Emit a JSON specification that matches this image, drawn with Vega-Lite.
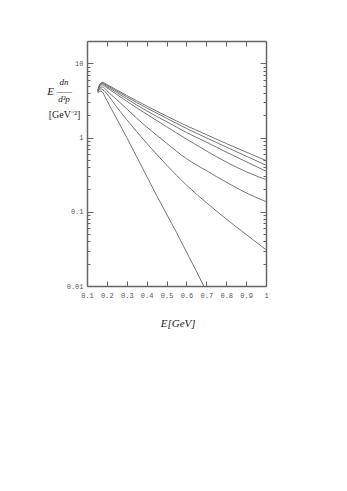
{
  "$schema": "https://vega.github.io/schema/vega-lite/v6.json",
  "width": 179,
  "height": 245,
  "autosize": {"type": "none"},
  "padding": {"left": 87, "top": 41, "right": 81, "bottom": 205},
  "background": "white",
  "title": {
    "text": "─────",
    "anchor": "start",
    "frame": "group",
    "align": "left",
    "baseline": "middle",
    "font": "DejaVu Sans",
    "fontSize": 5,
    "fontWeight": "normal",
    "color": "#222",
    "dx": -30,
    "dy": 60
  },
  "config": {
    "view": {"stroke": null},
    "axis": {
      "grid": false,
      "domainColor": "#666",
      "domainWidth": 1.5,
      "tickColor": "#666",
      "tickWidth": 1,
      "labelFont": "Liberation Mono",
      "labelFontSize": 7,
      "labelColor": "#555",
      "labelFlush": false,
      "titleFont": "Liberation Serif",
      "titleFontWeight": "normal",
      "titleColor": "#222"
    }
  },
  "data": {
    "values": [
      {"s": "A", "E": 0.155, "v": 4.37}, {"s": "A", "E": 0.16, "v": 4.90}, {"s": "A", "E": 0.17, "v": 5.43}, {"s": "A", "E": 0.18, "v": 5.56}, {"s": "A", "E": 0.19, "v": 5.38}, {"s": "A", "E": 0.2, "v": 5.19}, {"s": "A", "E": 0.25, "v": 4.37}, {"s": "A", "E": 0.3, "v": 3.69}, {"s": "A", "E": 0.35, "v": 3.13}, {"s": "A", "E": 0.4, "v": 2.66}, {"s": "A", "E": 0.5, "v": 1.95}, {"s": "A", "E": 0.6, "v": 1.445}, {"s": "A", "E": 0.7, "v": 1.096}, {"s": "A", "E": 0.8, "v": 0.832}, {"s": "A", "E": 0.9, "v": 0.638}, {"s": "A", "E": 1.0, "v": 0.49},
      {"s": "B", "E": 0.155, "v": 4.32}, {"s": "B", "E": 0.16, "v": 4.84}, {"s": "B", "E": 0.17, "v": 5.35}, {"s": "B", "E": 0.18, "v": 5.43}, {"s": "B", "E": 0.19, "v": 5.24}, {"s": "B", "E": 0.2, "v": 5.05}, {"s": "B", "E": 0.25, "v": 4.22}, {"s": "B", "E": 0.3, "v": 3.53}, {"s": "B", "E": 0.35, "v": 2.96}, {"s": "B", "E": 0.4, "v": 2.51}, {"s": "B", "E": 0.5, "v": 1.82}, {"s": "B", "E": 0.6, "v": 1.327}, {"s": "B", "E": 0.7, "v": 0.993}, {"s": "B", "E": 0.8, "v": 0.745}, {"s": "B", "E": 0.9, "v": 0.562}, {"s": "B", "E": 1.0, "v": 0.424},
      {"s": "C", "E": 0.155, "v": 4.27}, {"s": "C", "E": 0.16, "v": 4.79}, {"s": "C", "E": 0.17, "v": 5.25}, {"s": "C", "E": 0.18, "v": 5.31}, {"s": "C", "E": 0.19, "v": 5.09}, {"s": "C", "E": 0.2, "v": 4.89}, {"s": "C", "E": 0.25, "v": 4.03}, {"s": "C", "E": 0.3, "v": 3.33}, {"s": "C", "E": 0.35, "v": 2.75}, {"s": "C", "E": 0.4, "v": 2.29}, {"s": "C", "E": 0.5, "v": 1.64}, {"s": "C", "E": 0.6, "v": 1.172}, {"s": "C", "E": 0.7, "v": 0.867}, {"s": "C", "E": 0.8, "v": 0.638}, {"s": "C", "E": 0.9, "v": 0.473}, {"s": "C", "E": 1.0, "v": 0.352},
      {"s": "D", "E": 0.155, "v": 4.22}, {"s": "D", "E": 0.16, "v": 4.68}, {"s": "D", "E": 0.17, "v": 5.07}, {"s": "D", "E": 0.18, "v": 5.13}, {"s": "D", "E": 0.19, "v": 4.90}, {"s": "D", "E": 0.2, "v": 4.70}, {"s": "D", "E": 0.25, "v": 3.80}, {"s": "D", "E": 0.3, "v": 3.09}, {"s": "D", "E": 0.35, "v": 2.51}, {"s": "D", "E": 0.4, "v": 2.07}, {"s": "D", "E": 0.5, "v": 1.40}, {"s": "D", "E": 0.6, "v": 0.955}, {"s": "D", "E": 0.7, "v": 0.661}, {"s": "D", "E": 0.8, "v": 0.468}, {"s": "D", "E": 0.9, "v": 0.347}, {"s": "D", "E": 1.0, "v": 0.271},
      {"s": "E", "E": 0.155, "v": 4.17}, {"s": "E", "E": 0.16, "v": 4.52}, {"s": "E", "E": 0.17, "v": 4.79}, {"s": "E", "E": 0.18, "v": 4.79}, {"s": "E", "E": 0.19, "v": 4.57}, {"s": "E", "E": 0.2, "v": 4.27}, {"s": "E", "E": 0.25, "v": 3.24}, {"s": "E", "E": 0.3, "v": 2.43}, {"s": "E", "E": 0.35, "v": 1.82}, {"s": "E", "E": 0.4, "v": 1.39}, {"s": "E", "E": 0.5, "v": 0.841}, {"s": "E", "E": 0.6, "v": 0.519}, {"s": "E", "E": 0.7, "v": 0.359}, {"s": "E", "E": 0.8, "v": 0.251}, {"s": "E", "E": 0.9, "v": 0.180}, {"s": "E", "E": 1.0, "v": 0.137},
      {"s": "F", "E": 0.155, "v": 4.07}, {"s": "F", "E": 0.16, "v": 4.37}, {"s": "F", "E": 0.17, "v": 4.52}, {"s": "F", "E": 0.18, "v": 4.42}, {"s": "F", "E": 0.19, "v": 4.17}, {"s": "F", "E": 0.2, "v": 3.89}, {"s": "F", "E": 0.25, "v": 2.57}, {"s": "F", "E": 0.3, "v": 1.74}, {"s": "F", "E": 0.35, "v": 1.20}, {"s": "F", "E": 0.4, "v": 0.841}, {"s": "F", "E": 0.5, "v": 0.427}, {"s": "F", "E": 0.6, "v": 0.229}, {"s": "F", "E": 0.7, "v": 0.133}, {"s": "F", "E": 0.8, "v": 0.080}, {"s": "F", "E": 0.9, "v": 0.0495}, {"s": "F", "E": 1.0, "v": 0.0309},
      {"s": "G", "E": 0.155, "v": 3.98}, {"s": "G", "E": 0.16, "v": 4.17}, {"s": "G", "E": 0.17, "v": 4.22}, {"s": "G", "E": 0.18, "v": 4.03}, {"s": "G", "E": 0.19, "v": 3.55}, {"s": "G", "E": 0.2, "v": 3.16}, {"s": "G", "E": 0.25, "v": 1.78}, {"s": "G", "E": 0.3, "v": 1.0}, {"s": "G", "E": 0.35, "v": 0.55}, {"s": "G", "E": 0.4, "v": 0.302}, {"s": "G", "E": 0.45, "v": 0.166}, {"s": "G", "E": 0.5, "v": 0.0933}, {"s": "G", "E": 0.55, "v": 0.0525}, {"s": "G", "E": 0.6, "v": 0.0288}, {"s": "G", "E": 0.65, "v": 0.0158}, {"s": "G", "E": 0.7, "v": 0.0085}
    ]
  },
  "layer": [
    {
      "mark": {"type": "line", "color": "#666", "strokeWidth": 0.9, "clip": true, "interpolate": "monotone"},
      "encoding": {
        "x": {
          "field": "E", "type": "quantitative",
          "scale": {"domain": [0.1, 1], "nice": false, "zero": false},
          "axis": {
            "orient": "bottom",
            "values": [0.1, 0.2, 0.3, 0.4, 0.5, 0.6, 0.7, 0.8, 0.9, 1],
            "format": "~g",
            "tickSize": -5,
            "labelPadding": 10,
            "title": "E[GeV]",
            "titleFontStyle": "italic",
            "titleFontSize": 11,
            "titleX": 90.7,
            "titleY": 37,
            "titleAlign": "center",
            "titleBaseline": "middle"
          }
        },
        "y": {
          "field": "v", "type": "quantitative",
          "scale": {"type": "log", "domain": [0.01, 20], "nice": false},
          "axis": {
            "orient": "left",
            "values": [0.01, 0.02, 0.03, 0.04, 0.05, 0.06, 0.07, 0.08, 0.09, 0.1, 0.2, 0.3, 0.4, 0.5, 0.6, 0.7, 0.8, 0.9, 1, 2, 3, 4, 5, 6, 7, 8, 9, 10],
            "labelExpr": "abs(log(datum.value)/LN10 - round(log(datum.value)/LN10)) < 0.000001 ? format(datum.value, '~g') : ''",
            "tickSize": {"condition": {"test": "abs(log(datum.value)/LN10 - round(log(datum.value)/LN10)) < 0.000001", "value": -6}, "value": -3},
            "labelPadding": 10,
            "title": ["dn", "d³p"],
            "titleFontStyle": "italic",
            "titleFontSize": 9,
            "titleAngle": 0,
            "titleX": -23.5,
            "titleY": 40.5,
            "titleAlign": "center",
            "titleBaseline": "middle",
            "titleLineHeight": 17
          }
        },
        "detail": {"field": "s"}
      }
    },
    {
      "mark": {"type": "line", "opacity": 0},
      "encoding": {
        "x": {
          "field": "E", "type": "quantitative",
          "axis": {
            "orient": "top",
            "values": [0.1, 0.2, 0.3, 0.4, 0.5, 0.6, 0.7, 0.8, 0.9, 1],
            "labels": false,
            "tickSize": -5,
            "title": "[GeV⁻²]",
            "titleFontSize": 10,
            "titleX": -23,
            "titleY": 73,
            "titleAlign": "center",
            "titleBaseline": "middle"
          }
        },
        "y": {
          "field": "v", "type": "quantitative",
          "axis": {
            "orient": "right",
            "values": [0.01, 0.02, 0.03, 0.04, 0.05, 0.06, 0.07, 0.08, 0.09, 0.1, 0.2, 0.3, 0.4, 0.5, 0.6, 0.7, 0.8, 0.9, 1, 2, 3, 4, 5, 6, 7, 8, 9, 10],
            "labels": false,
            "tickSize": {"condition": {"test": "abs(log(datum.value)/LN10 - round(log(datum.value)/LN10)) < 0.000001", "value": -6}, "value": -3},
            "title": "E",
            "titleFontStyle": "italic",
            "titleFontSize": 11,
            "titleAngle": 0,
            "titleX": -216,
            "titleY": 50,
            "titleAlign": "center",
            "titleBaseline": "middle"
          }
        },
        "detail": {"field": "s"}
      }
    }
  ],
  "resolve": {"axis": {"x": "independent", "y": "independent"}}
}
